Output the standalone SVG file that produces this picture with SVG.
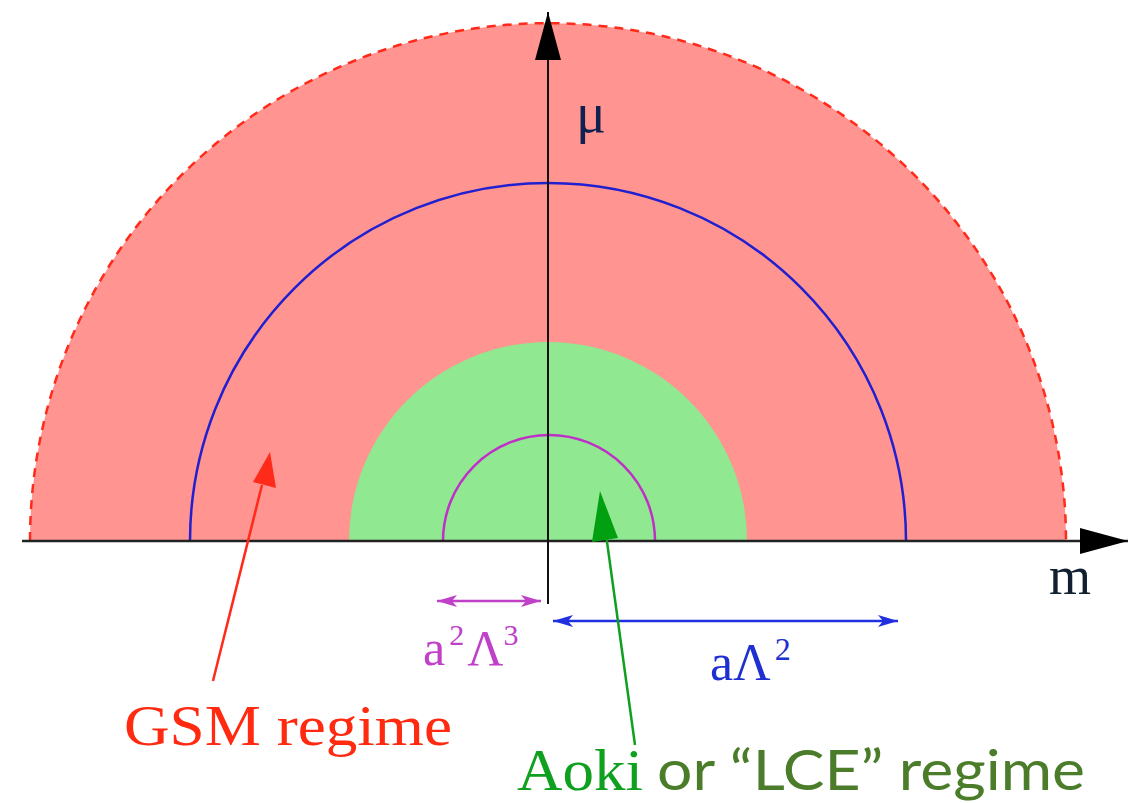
<svg xmlns="http://www.w3.org/2000/svg" width="1133" height="803" viewBox="0 0 1133 803">
<style>
.serif{font-family:"Liberation Serif","DejaVu Serif",serif}
.sans{font-family:Lato,"Open Sans",sans-serif}
</style>
<defs>
<marker id="bigArrow" viewBox="0 0 48 26" refX="48" refY="13" markerWidth="48" markerHeight="26" markerUnits="userSpaceOnUse" orient="auto"><path d="M0,0 L48,13 L0,26 Z" fill="#000"/></marker>
<marker id="pArrow" viewBox="0 0 20 12" refX="20" refY="6" markerWidth="20" markerHeight="12" markerUnits="userSpaceOnUse" orient="auto-start-reverse"><path d="M0,0 L20,6 L0,12 L5,6 Z" fill="#c040c8"/></marker>
<marker id="bArrow" viewBox="0 0 20 12" refX="20" refY="6" markerWidth="20" markerHeight="12" markerUnits="userSpaceOnUse" orient="auto-start-reverse"><path d="M0,0 L20,6 L0,12 L5,6 Z" fill="#2030e0"/></marker>
</defs>
<rect width="1133" height="803" fill="#fff"/>
<g id="regions">
<path id="gsm-region" d="M30,541 A518,518 0 0 1 1066,541 Z" fill="#ff9490"/>
<path d="M30,541 A518,518 0 0 1 1066,541" fill="none" stroke="#ff2a1a" stroke-width="2.5" stroke-dasharray="9,7"/>
<path id="aoki-region" d="M349,541 A199,199 0 0 1 747,541 Z" fill="#90e890"/>
<path id="blue-circle" d="M190,541 A358,358 0 0 1 906,541" fill="none" stroke="#2020d0" stroke-width="2.5"/>
<path id="purple-circle" d="M443,541 A106,106 0 0 1 655,541" fill="none" stroke="#c030c8" stroke-width="2.5"/>
</g>
<g id="connectors">
<line x1="22" y1="541" x2="1128" y2="541" stroke="#222" stroke-width="2.5" marker-end="url(#bigArrow)"/>
<line x1="548" y1="604" x2="548" y2="12" stroke="#111" stroke-width="2" marker-end="url(#bigArrow)"/>
<line x1="437" y1="601" x2="541" y2="601" stroke="#c040c8" stroke-width="2.5" marker-start="url(#pArrow)" marker-end="url(#pArrow)"/>
<line x1="553" y1="621" x2="898" y2="621" stroke="#2030e0" stroke-width="2.5" marker-start="url(#bArrow)" marker-end="url(#bArrow)"/>
<line x1="213" y1="681" x2="262" y2="485" stroke="#ff2a1a" stroke-width="2.5"/>
<path d="M270,452 L276,488 L253,482 Z" fill="#ff2a1a"/>
<line x1="635" y1="745" x2="604" y2="520" stroke="#10a020" stroke-width="2.5"/>
<path d="M600,491 L618,538 L592,542 Z" fill="#00a010"/>
</g>
<g id="labels">
<text class="serif" x="576" y="132" font-size="56" fill="#102050">μ</text>
<text class="serif" x="1049" y="594" font-size="54" fill="#102030">m</text>
<text class="serif" x="423" y="665" font-size="50" fill="#c040c8">a<tspan font-size="30" dx="4" dy="-20">2</tspan><tspan font-size="50" dx="3" dy="20">Λ</tspan><tspan font-size="30" dy="-20">3</tspan></text>
<text class="serif" x="710" y="680" font-size="52" fill="#2030d0">aΛ<tspan font-size="32" dx="4" dy="-20">2</tspan></text>
<text id="gsm-label" class="serif" x="124" y="745" font-size="58" fill="#ff2a10" textLength="328" lengthAdjust="spacingAndGlyphs">GSM regime</text>
<text id="aoki-label" y="790"><tspan class="serif" x="517" font-size="60" fill="#10a020" textLength="126" lengthAdjust="spacingAndGlyphs">Aoki</tspan><tspan class="sans" x="657" font-size="56" fill="#4a7c2a" textLength="428" lengthAdjust="spacingAndGlyphs">or “LCE” regime</tspan></text>
</g>
</svg>
